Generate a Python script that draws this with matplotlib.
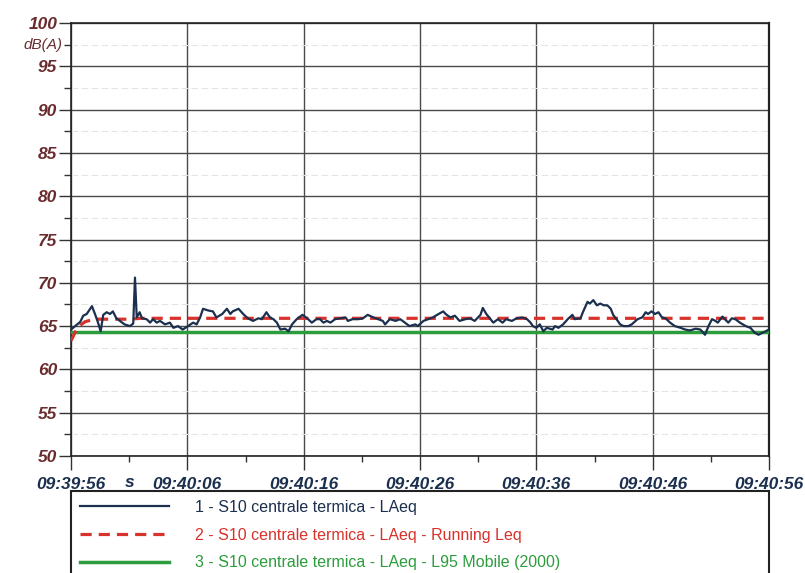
import matplotlib.pyplot as plt
from matplotlib.ticker import MultipleLocator

# time in seconds from 09:39:56
t = [0.0, 0.35, 0.8, 1.05, 1.35, 1.8, 2.06, 2.3, 2.55, 2.77, 3.07, 3.35, 3.6, 3.9, 4.2, 4.6,
     5.07, 5.35, 5.5, 5.65, 5.9, 6.1, 6.5, 6.8, 7.05, 7.37, 7.65, 8.08, 8.5, 8.8, 9.2, 9.6,
     10.06, 10.5, 10.8, 11.1, 11.35, 11.8, 12.2, 12.5, 13.0, 13.4, 13.7, 13.9, 14.4, 14.8,
     15.2, 15.65, 16.1, 16.4, 16.8, 17.1, 17.4, 17.7, 18.0, 18.4, 18.7, 19.0, 19.4, 19.9,
     20.3, 20.7, 21.1, 21.4, 21.7, 22.0, 22.3, 22.7, 23.1, 23.6, 23.8, 24.2, 24.7, 25.1,
     25.5, 26.0, 26.4, 26.8, 27.0, 27.4, 27.9, 28.3, 28.7, 29.1, 29.6, 29.8, 30.3, 30.7,
     31.1, 31.6, 32.0, 32.2, 32.6, 33.0, 33.4, 33.9, 34.3, 34.7, 35.2, 35.4, 35.7, 36.0,
     36.3, 36.7, 37.1, 37.4, 37.9, 38.3, 38.8, 39.2, 39.5, 39.7, 40.0, 40.3, 40.6, 40.9,
     41.4, 41.6, 41.9, 42.3, 42.7, 43.1, 43.3, 43.8, 44.0, 44.4, 44.6, 44.9, 45.2, 45.5,
     45.8, 46.1, 46.4, 46.6, 47.0, 47.2, 47.5, 47.9, 48.2, 48.7, 49.1, 49.4, 49.6, 49.9,
     50.2, 50.5, 50.8, 51.1, 51.5, 51.9, 52.4, 52.8, 53.2, 53.7, 54.1, 54.5, 54.8, 55.1,
     55.4, 55.6, 56.0, 56.2, 56.5, 56.8, 57.1, 57.5, 58.0, 58.4, 58.8, 59.1, 59.4, 59.7, 60.0]
laeq = [64.6, 65.0, 65.5, 66.2, 66.4, 67.3, 66.4, 65.5, 64.4, 66.3, 66.6, 66.4, 66.7, 65.9, 65.6, 65.2,
        65.0, 65.3, 70.6, 66.0, 66.6, 65.9, 65.8, 65.4, 65.8, 65.4, 65.6, 65.2, 65.4, 64.8, 65.0, 64.6,
        65.0, 65.4, 65.2, 66.0, 67.0, 66.8, 66.7, 66.0, 66.4, 67.0, 66.4, 66.7, 67.0, 66.4,
        65.9, 65.6, 65.9, 65.8, 66.6, 66.0, 65.8, 65.4, 64.6, 64.7, 64.4, 65.2, 65.8, 66.3,
        65.9, 65.4, 65.8, 65.8, 65.4, 65.6, 65.4, 65.8, 65.9, 66.0, 65.6, 65.8, 65.8, 65.9,
        66.3, 66.0, 65.8, 65.6, 65.2, 65.8, 65.6, 65.8, 65.4, 65.0, 65.2, 65.0, 65.6, 65.8,
        66.0, 66.4, 66.7, 66.4, 66.0, 66.2, 65.6, 65.8, 65.9, 65.6, 66.3, 67.1, 66.4, 65.9,
        65.4, 65.8, 65.4, 65.8, 65.6, 65.9, 66.0, 65.8, 65.4, 65.0, 64.8, 65.2, 64.4, 64.8,
        64.6, 65.0, 64.8, 65.2, 65.8, 66.3, 65.8, 65.9, 66.6, 67.8, 67.6, 68.0, 67.4, 67.6,
        67.4, 67.4, 67.0, 66.3, 65.6, 65.2, 65.0, 65.0, 65.2, 65.8, 66.0, 66.6, 66.4, 66.7,
        66.4, 66.6, 66.0, 65.9, 65.4, 65.0, 64.8, 64.6, 64.5, 64.7, 64.6, 64.0, 65.0, 65.8,
        65.6, 65.4, 66.1, 65.8, 65.4, 65.9, 65.8, 65.4, 65.0, 64.8, 64.2, 64.0, 64.2, 64.4, 64.6]

t_run = [0.0, 0.4, 0.8, 1.2, 2.0, 5.0, 6.0, 60.0]
running_leq = [63.3, 64.4, 65.1, 65.5, 65.8, 65.8, 65.9, 65.9]

t_l95 = [0.0, 60.0]
l95 = [64.3, 64.3]

x_ticks = [0, 10, 20, 30, 40, 50, 60]
x_labels = ["09:39:56", "09:40:06", "09:40:16", "09:40:26", "09:40:36", "09:40:46", "09:40:56"]
y_ticks = [50, 55, 60, 65, 70, 75, 80, 85, 90, 95, 100]

series_names = ["1 - S10 centrale termica - LAeq",
                "2 - S10 centrale termica - LAeq - Running Leq",
                "3 - S10 centrale termica - LAeq - L95 Mobile (2000)"]

navy = "#1b2f4e"
red = "#d8322c"
green = "#2c9c3d"
ylab_color = "#6a2b2e"

fig = plt.figure(figsize=(8.05, 5.73), dpi=100)
ax = fig.add_axes([71 / 805, 1 - 456 / 573, 698 / 805, 433 / 573])

l1, = ax.plot(t, laeq, color=navy, lw=1.6, zorder=5)
l2, = ax.plot(t_run, running_leq, color=red, lw=2.3, dashes=(3.5, 2.2), zorder=4)
l3, = ax.plot(t_l95, l95, color=green, lw=2.5, zorder=3)

ax.set_xlim(0, 60)
ax.set_ylim(50, 100)
ax.set_xticks(x_ticks)
ax.set_xticklabels(x_labels)
ax.set_yticks(y_ticks)
ax.xaxis.set_minor_locator(MultipleLocator(5))
ax.yaxis.set_minor_locator(MultipleLocator(2.5))

ax.grid(which="major", color="#4a4a4a", lw=1.0)
ax.grid(which="minor", axis="y", color="#e4e4e4", lw=0.8, ls=(0, (6, 3)))
ax.set_axisbelow(True)

for lab in ax.get_yticklabels():
    lab.set_fontfamily("Liberation Sans")
    lab.set_fontweight("bold")
    lab.set_fontstyle("italic")
    lab.set_fontsize(12.5)
    lab.set_color(ylab_color)
for lab in ax.get_xticklabels():
    lab.set_fontfamily("Liberation Sans")
    lab.set_fontweight("bold")
    lab.set_fontstyle("italic")
    lab.set_fontsize(12.5)
    lab.set_color(navy)

ax.tick_params(axis="y", which="major", length=9, width=1.0, pad=1, color="#333333")
ax.tick_params(axis="y", which="minor", length=5, width=1.0, color="#333333")
ax.tick_params(axis="x", which="major", length=10, width=1.0, pad=5, color="#333333")
ax.tick_params(axis="x", which="minor", length=4, width=1.0, color="#333333")

for s in ax.spines.values():
    s.set_color("#222222")
    s.set_linewidth(1.2)
ax.spines["right"].set_linewidth(1.6)

# unit labels
ax.text(-0.012, 97.5, "dB(A)", transform=ax.get_yaxis_transform(), ha="right", va="center",
        fontsize=11, fontstyle="italic", color=ylab_color, family="Liberation Sans")
ax.text(5, -0.043, "s", transform=ax.get_xaxis_transform(), ha="center", va="top",
        fontsize=12.5, fontweight="bold", fontstyle="italic", color=navy, family="Liberation Sans")

leg = ax.legend([l1, l2, l3], series_names, loc="upper left", bbox_to_anchor=(0, -0.081, 1, 0.0),
                mode="expand", borderaxespad=0, ncol=1, fancybox=False, edgecolor="#222222",
                framealpha=1, handlelength=5.6, handletextpad=1.6, labelspacing=0.8, borderpad=0.55,
                prop={"family": "Liberation Sans", "size": 11.5})
leg.get_frame().set_linewidth(1.5)
for txt, c in zip(leg.get_texts(), [navy, red, green]):
    txt.set_color(c)

fig.savefig("out.png", dpi=100)
